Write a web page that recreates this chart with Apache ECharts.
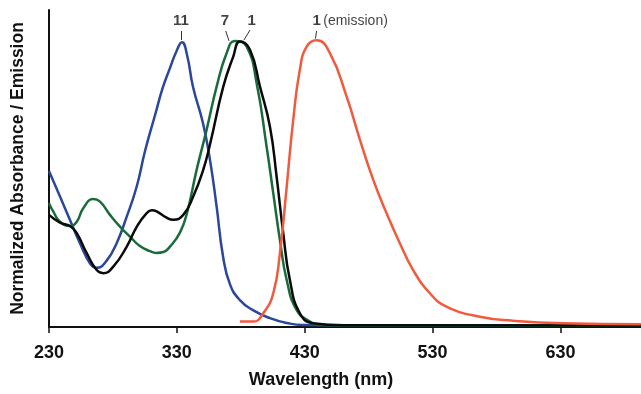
<!DOCTYPE html>
<html>
<head>
<meta charset="utf-8">
<script src="https://cdn.jsdelivr.net/npm/echarts@6/dist/echarts.min.js"></script>
<style>
html,body{margin:0;padding:0;background:#fff;}
#chart{width:641px;height:394px;}
</style>
</head>
<body>
<div id="chart"></div>
<script>
// ---- data ----
const tickValues = [230, 330, 430, 530, 630];

// compound 11 absorbance (blue)
const blueX = [230, 238.6, 246.4, 254.2, 262.1, 267.3, 275.1, 282.9, 290.8, 298.6, 305.1, 312.9, 319.1, 324.6, 329.8, 334.0, 338.0, 342.6, 350.4, 355.9, 361.1, 366, 371.5, 379.3, 389.5, 402.8, 416.1, 428.6, 500, 600, 693];
const blueY = [0.545, 0.456, 0.374, 0.293, 0.222, 0.207, 0.232, 0.293, 0.386, 0.491, 0.615, 0.740, 0.838, 0.905, 0.965, 0.995, 0.950, 0.840, 0.713, 0.584, 0.421, 0.250, 0.150, 0.094, 0.059, 0.031, 0.014, 0.007, 0.006, 0.005, 0.005];

// compound 7 absorbance (green)
const greenX = [230, 233.4, 238.6, 246.4, 251.7, 256.8, 264.6, 269.9, 277.7, 285.5, 293.3, 301.1, 309.0, 314, 319.4, 324.6, 332.4, 338, 345.5, 353.3, 361.1, 368.9, 375.4, 384.6, 392.4, 400.2, 405.4, 410.6, 415.9, 423.7, 434.1, 441.9, 500, 693];
const greenY = [0.433, 0.403, 0.368, 0.353, 0.368, 0.415, 0.447, 0.438, 0.392, 0.351, 0.316, 0.283, 0.265, 0.259, 0.262, 0.281, 0.330, 0.400, 0.550, 0.690, 0.840, 0.957, 1.000, 0.980, 0.852, 0.630, 0.467, 0.304, 0.164, 0.059, 0.019, 0.007, 0.005, 0.004];

// compound 1 absorbance (black)
const blackX = [230, 238.6, 246.4, 251.7, 259.5, 267.3, 272.5, 280.3, 290.8, 298.6, 306.4, 310.5, 314.2, 322.0, 327.2, 335.0, 342.8, 350.6, 356, 366.3, 374.1, 379.3, 387.2, 395.0, 402.8, 408.0, 413.2, 418.4, 426.2, 436.6, 460, 693];
const blackY = [0.392, 0.365, 0.353, 0.328, 0.258, 0.199, 0.188, 0.211, 0.281, 0.350, 0.398, 0.408, 0.404, 0.382, 0.375, 0.392, 0.456, 0.549, 0.640, 0.840, 0.945, 0.998, 0.969, 0.840, 0.700, 0.526, 0.328, 0.164, 0.048, 0.013, 0.006, 0.005];

// compound 1 emission (red)
const redX = [379.3, 389.7, 397.6, 405.4, 410.6, 415.9, 421.0, 426.2, 431.5, 439.3, 449.7, 462.8, 473.2, 483.6, 494.0, 504.4, 514.8, 527.9, 540.9, 567.0, 593.0, 632.1, 692.9];
const redY = [0.019, 0.019, 0.048, 0.118, 0.258, 0.491, 0.724, 0.899, 0.980, 1.002, 0.957, 0.805, 0.654, 0.514, 0.398, 0.293, 0.199, 0.118, 0.071, 0.036, 0.022, 0.013, 0.010];

// peak annotations
const annoText = ['11', '7', '1', '1', '(emission)'];
const annoX = [333.2, 367.5, 388.5, 439.3, 444.5];
const annoY = [1.07, 1.07, 1.07, 1.07, 1.07];
const annoBold = [true, true, true, true, false];
const annoAlign = ['center', 'center', 'center', 'center', 'left'];

// leader lines [x1, y1, x2, y2]
const leaderX1 = [333.2, 368.2, 387.2, 439.3];
const leaderY1 = [1.035, 1.035, 1.038, 1.035];
const leaderX2 = [333.2, 370.8, 382.5, 438.4];
const leaderY2 = [1.003, 1.000, 1.003, 1.008];

// ---- build ----
const zip = (xs, ys) => xs.map((x, i) => [x, ys[i]]);
const FONT = "'Liberation Sans', Arial, Helvetica, sans-serif";

const lineSeries = (name, xs, ys, color) => ({
  name, type: 'line', data: zip(xs, ys), smooth: 0.5, showSymbol: false,
  lineStyle: { color, width: 2.5 }, itemStyle: { color }, silent: true
});

const chart = echarts.init(document.getElementById('chart'), null, { renderer: 'canvas' });
chart.setOption({
  animation: false,
  backgroundColor: '#ffffff',
  grid: { left: 49, right: 0, top: 10, bottom: 67 },
  xAxis: {
    type: 'value', min: 230, max: 693,
    name: 'Wavelength (nm)', nameLocation: 'middle', nameGap: 44,
    nameTextStyle: { fontFamily: FONT, fontWeight: 'bold', fontSize: 18, color: '#111', padding: [0, 48, 0, 0] },
    axisLine: { show: true, onZero: false, lineStyle: { color: '#111', width: 2 } },
    axisTick: { show: true, customValues: tickValues, length: 6, inside: false, lineStyle: { color: '#111', width: 1.5 } },
    axisLabel: { customValues: tickValues, fontFamily: FONT, fontWeight: 'bold', fontSize: 18, color: '#111', margin: 17 },
    splitLine: { show: false }
  },
  yAxis: {
    type: 'value', min: 0, max: 1.108,
    name: 'Normalized Absorbance / Emission', nameLocation: 'middle', nameGap: 22,
    nameTextStyle: { fontFamily: FONT, fontWeight: 'bold', fontSize: 17.5, color: '#111' },
    axisLine: { show: true, lineStyle: { color: '#111', width: 2 } },
    axisTick: { show: false }, axisLabel: { show: false }, splitLine: { show: false }
  },
  series: [
    lineSeries('11', blueX, blueY, '#2a479c'),
    lineSeries('7', greenX, greenY, '#1a6b3c'),
    lineSeries('1', blackX, blackY, '#0a0a0a'),
    lineSeries('1 (emission)', redX, redY, '#f25a3d'),
    {
      type: 'scatter', symbolSize: 0, silent: true,
      data: annoText.map((t, i) => ({
        value: [annoX[i], annoY[i]],
        label: {
          show: true, position: 'inside', formatter: t, align: annoAlign[i],
          fontFamily: FONT, fontWeight: annoBold[i] ? 'bold' : 'normal',
          fontSize: annoBold[i] ? 15 : 14, color: '#111'
        }
      })),
      markLine: {
        silent: true, symbol: 'none', animation: false,
        lineStyle: { color: '#333', width: 1, type: 'solid' },
        label: { show: false },
        data: leaderX1.map((x, i) => [{ coord: [x, leaderY1[i]] }, { coord: [leaderX2[i], leaderY2[i]] }])
      }
    }
  ]
});
</script>
</body>
</html>
